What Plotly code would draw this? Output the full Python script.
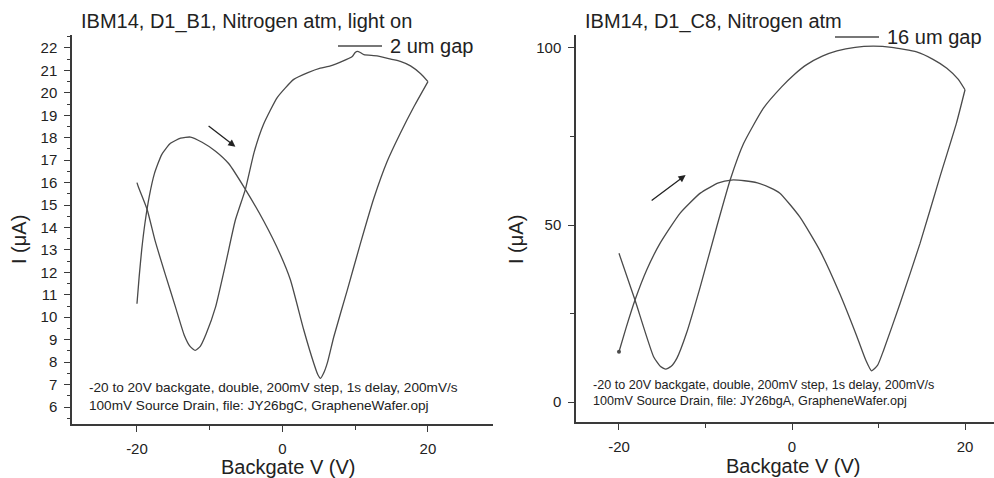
import plotly.graph_objects as go

# ---------------- data ----------------
# Left panel: IBM14, D1_B1, 2 um gap  (forward sweep -20 -> 20 V, then reverse 20 -> -20 V)
v_fwd_2um = [-20.0, -19.7, -19.35, -18.9, -18.3, -17.6, -16.6, -15.4, -14.0, -12.65, -11.05, -9.2,
             -7.4, -5.1, -2.6, -0.3, 1.1, 2.93, 4.3, 4.85, 5.23, 5.65, 6.2, 7.06, 8.9, 10.73, 12.56,
             14.4, 16.2, 18.1, 20.0]
i_fwd_2um = [10.6, 11.8, 13.0, 14.2, 15.4, 16.4, 17.25, 17.75, 17.98, 18.03, 17.8, 17.4,
             16.85, 15.7, 14.3, 12.8, 11.66, 9.43, 7.95, 7.45, 7.28, 7.5, 8.0, 9.13, 11.2, 13.3, 15.3,
             16.95, 18.2, 19.4, 20.5]
v_rev_2um = [20.0, 19.0, 17.6, 16.2, 14.9, 13.0, 11.2, 10.7, 10.3, 10.0, 9.6, 8.2, 6.6,
             5.2, 3.5, 1.55, -0.7, -2.6, -3.9, -5.1, -6.5, -7.8, -9.2, -10.5, -11.3, -12.0, -12.7,
             -13.5, -14.7, -16.1, -17.5, -18.6, -19.8, -20.0]
i_rev_2um = [20.5, 20.85, 21.2, 21.4, 21.5, 21.65, 21.7, 21.8, 21.85, 21.8, 21.62, 21.4, 21.2,
             21.1, 20.9, 20.6, 19.8, 18.6, 17.35, 15.7, 14.3, 12.4, 10.45, 9.25, 8.7, 8.52, 8.7,
             9.2, 10.45, 11.9, 13.4, 14.8, 15.8, 16.0]

# Right panel: IBM14, D1_C8, 16 um gap
v_fwd_16um = [-20.0, -19.2, -18.15, -16.8, -15.26, -12.95, -10.6, -8.5, -7.0, -5.5, -4.0, -2.5,
              -1.4, 0.9, 3.2, 5.5, 7.5, 8.5, 9.2, 9.9, 10.6, 12.5, 14.8, 17.1, 19.0, 20.0]
i_fwd_16um = [14.2, 20.8, 28.8, 37.3, 44.8, 53.3, 59.0, 61.9, 62.7, 62.5, 61.9, 60.5,
              59.0, 52.3, 42.9, 30.7, 18.5, 12.0, 8.8, 10.4, 14.7, 27.9, 44.8, 63.6, 78.7, 88.2]
v_rev_16um = [20.0, 19.2, 17.9, 16.3, 14.4, 11.5, 9.4, 7.3, 5.2, 3.5, 1.7, 0.3, -1.2, -3.3, -5.6,
              -7.15, -8.7, -10.6, -12.2, -13.3, -14.0, -14.6, -15.2, -16.0, -18.15, -20.0]
i_rev_16um = [88.2, 91.2, 94.3, 96.8, 98.9, 100.2, 100.5, 100.2, 99.2, 97.7, 95.3, 92.6, 89.0, 83.0, 73.0,
              62.7, 49.5, 32.6, 19.4, 12.4, 10.0, 9.3, 10.0, 12.8, 28.8, 42.0]

# sweep-direction arrows: (tail V, tail I, head V, head I)
arrow_2um = [-10.36, 18.57, -6.47, 17.6]
arrow_16um = [-16.4, 56.6, -12.3, 64.1]

titles = ["IBM14, D1_B1, Nitrogen atm, light on", "IBM14, D1_C8, Nitrogen atm"]
legend_names = ["2 um gap", "16 um gap"]
notes = ["-20 to 20V backgate, double, 200mV step, 1s delay, 200mV/s<br>100mV Source Drain, file: JY26bgC, GrapheneWafer.opj",
         "-20 to 20V backgate, double, 200mV step, 1s delay, 200mV/s<br>100mV Source Drain, file: JY26bgA, GrapheneWafer.opj"]
x_title = "Backgate V (V)"
y_title = "I (\u03bcA)"
left_yticks = list(range(6, 23))
right_yticks = [0, 50, 100]
x_ticks = [-20, 0, 20]
x_ticktext = ["-20", "0", "20"]

# ---------------- figure ----------------
W, H = 994, 478
FONT = "Liberation Sans, Arial, sans-serif"
LINE = "#4a4a4a"
AX = "#3a3a3a"
TXT = "#222222"


def px(x):
    return x / W


def py(y):
    return 1 - y / H


fig = go.Figure()
line_style = dict(color=LINE, width=1.3, shape="spline", smoothing=0.5)
fig.add_trace(go.Scatter(x=v_fwd_2um, y=i_fwd_2um, mode="lines", line=line_style,
                         xaxis="x", yaxis="y", name=legend_names[0], showlegend=False))
fig.add_trace(go.Scatter(x=v_rev_2um, y=i_rev_2um, mode="lines", line=line_style,
                         xaxis="x", yaxis="y", name=legend_names[0], showlegend=False))
fig.add_trace(go.Scatter(x=v_fwd_16um, y=i_fwd_16um, mode="lines", line=line_style,
                         xaxis="x2", yaxis="y2", name=legend_names[1], showlegend=False))
fig.add_trace(go.Scatter(x=v_rev_16um, y=i_rev_16um, mode="lines", line=line_style,
                         xaxis="x2", yaxis="y2", name=legend_names[1], showlegend=False))
# start point dot on right panel
fig.add_trace(go.Scatter(x=[v_fwd_16um[0]], y=[i_fwd_16um[0]], mode="markers",
                         marker=dict(color=LINE, size=4), xaxis="x2", yaxis="y2", showlegend=False))

tickfont = dict(family=FONT, size=15, color=TXT)
common_axis = dict(showline=True, linecolor=AX, linewidth=1.5, mirror=False, showgrid=False,
                   zeroline=False, ticks="outside", ticklen=6, tickwidth=1.2, tickcolor=AX,
                   tickfont=tickfont)

fig.update_layout(
    width=W, height=H, margin=dict(l=0, r=0, t=0, b=0),
    paper_bgcolor="white", plot_bgcolor="white", showlegend=False,
    xaxis=dict(domain=[px(72), px(493)], range=[-28.93, 28.94], anchor="y",
               tickvals=x_ticks, ticktext=x_ticktext,
               minor=dict(tickvals=[-10, 10], ticklen=4, tickcolor=AX, ticks="outside"),
               ticklabelstandoff=4, **common_axis),
    yaxis=dict(domain=[py(424), py(35)], range=[5.2424, 22.578], anchor="x",
               tickvals=left_yticks, ticklabelstandoff=4,
               minor=dict(dtick=0.5, ticklen=3, tickcolor=AX, ticks="outside"), **common_axis),
    xaxis2=dict(domain=[px(576), 1.0], range=[-24.97, 23.35], anchor="y2",
                tickvals=x_ticks, ticktext=x_ticktext,
                minor=dict(tickvals=[-10, 10], ticklen=4, tickcolor=AX, ticks="outside"),
                ticklabelstandoff=4, **common_axis),
    yaxis2=dict(domain=[py(422), py(35)], range=[-5.65, 103.67], anchor="x2",
                tickvals=right_yticks, ticklabelstandoff=4,
                minor=dict(tickvals=[25, 75], ticklen=4, tickcolor=AX, ticks="outside"), **common_axis),
)

ann = []
# titles
ann.append(dict(text=titles[0], x=px(79), y=py(22), xanchor="left", yanchor="middle"))
ann.append(dict(text=titles[1], x=px(583), y=py(22), xanchor="left", yanchor="middle"))
# legend texts
ann.append(dict(text=legend_names[0], x=px(388), y=py(46), xanchor="left", yanchor="middle"))
ann.append(dict(text=legend_names[1], x=px(885), y=py(37), xanchor="left", yanchor="middle"))
# axis titles
ann.append(dict(text=x_title, x=px(288), y=py(467), xanchor="center", yanchor="middle"))
ann.append(dict(text=x_title, x=px(793), y=py(466), xanchor="center", yanchor="middle"))
ann.append(dict(text=y_title, x=px(19), y=py(240), xanchor="center", yanchor="middle", textangle=-90))
ann.append(dict(text=y_title, x=px(516), y=py(240), xanchor="center", yanchor="middle", textangle=-90))
for a in ann:
    a.update(xref="paper", yref="paper", showarrow=False,
             font=dict(family=FONT, size=20, color=TXT))
# notes
ann.append(dict(text=notes[0], x=px(87), y=py(396), xref="paper", yref="paper", showarrow=False,
                xanchor="left", yanchor="middle", align="left",
                font=dict(family=FONT, size=13.6, color=TXT)))
ann.append(dict(text=notes[1], x=px(591), y=py(393), xref="paper", yref="paper", showarrow=False,
                xanchor="left", yanchor="middle", align="left",
                font=dict(family=FONT, size=12.6, color=TXT)))
# arrows
ann.append(dict(x=arrow_2um[2], y=arrow_2um[3], ax=arrow_2um[0], ay=arrow_2um[1],
                xref="x", yref="y", axref="x", ayref="y", text="", showarrow=True,
                arrowhead=2, arrowsize=1.1, arrowwidth=1.3, arrowcolor="#222"))
ann.append(dict(x=arrow_16um[2], y=arrow_16um[3], ax=arrow_16um[0], ay=arrow_16um[1],
                xref="x2", yref="y2", axref="x2", ayref="y2", text="", showarrow=True,
                arrowhead=2, arrowsize=1.1, arrowwidth=1.3, arrowcolor="#222"))
fig.update_layout(annotations=ann)

# legend line samples
fig.add_shape(type="line", xref="paper", yref="paper", x0=px(338), x1=px(382), y0=py(46), y1=py(46),
              line=dict(color=LINE, width=1.3))
fig.add_shape(type="line", xref="paper", yref="paper", x0=px(835), x1=px(879), y0=py(37), y1=py(37),
              line=dict(color=LINE, width=1.3))

fig.write_html("out.html", config={"displayModeBar": False},
               post_script="document.body.style.margin='0';document.body.style.overflow='hidden';")
